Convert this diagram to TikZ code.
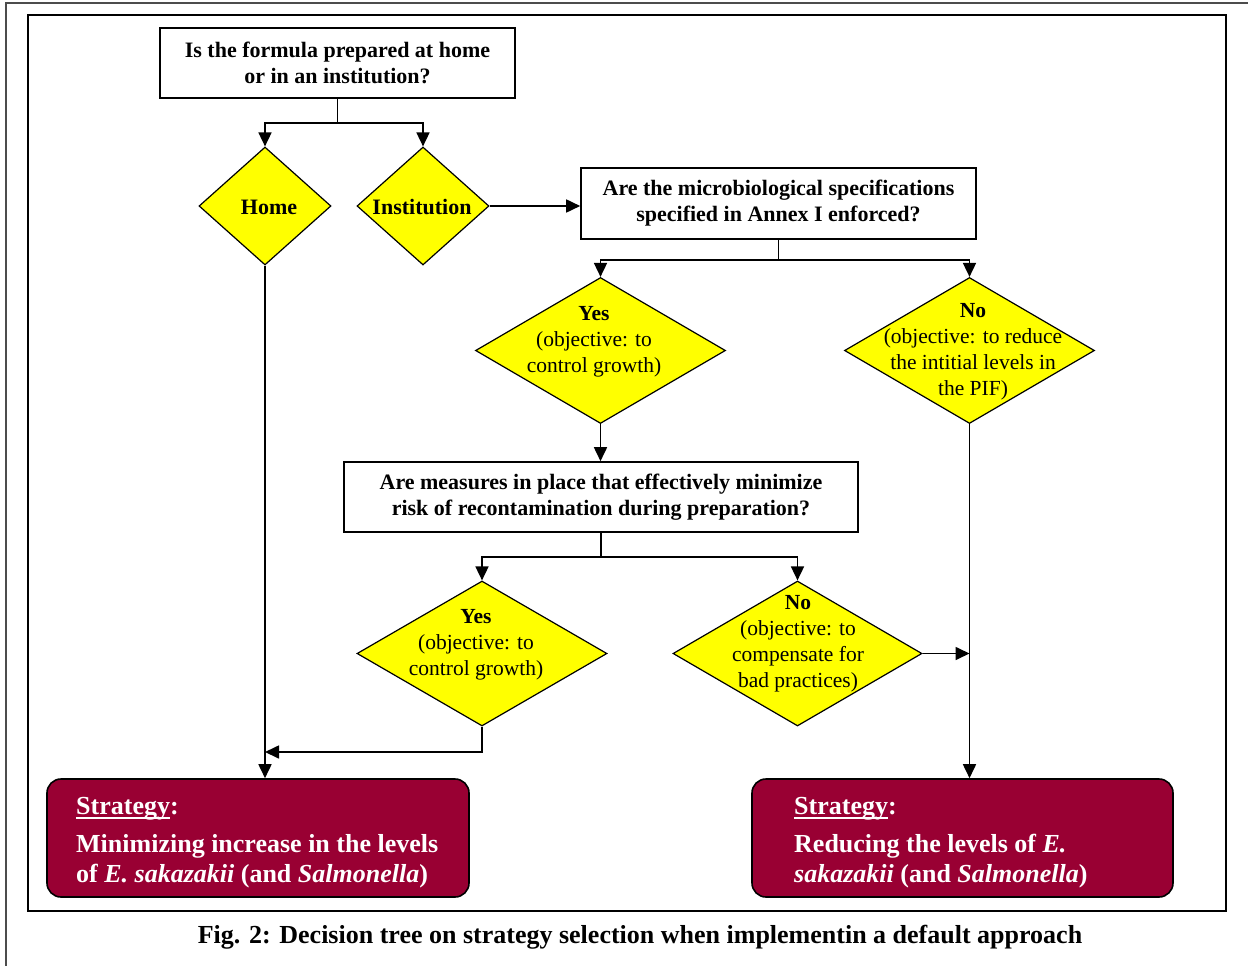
\documentclass[tikz,border=0pt]{standalone}
\usepackage{fontspec}
\setmainfont{Liberation Serif}
\usetikzlibrary{shapes.geometric,arrows.meta}
\definecolor{maroon}{HTML}{990033}
\definecolor{yel}{HTML}{FFFF00}
\newcommand{\myul}[1]{\setbox0\hbox{#1}\rlap{\rule[-4.5pt]{\wd0}{2pt}}\box0}
\begin{document}
\begin{tikzpicture}[x=1pt,y=-1pt,
 box/.style={draw,line width=1.6pt,fill=white,inner sep=0,align=center,font=\bfseries\fontsize{22}{26}\selectfont},
 dia/.style={diamond,draw,line width=1.2pt,fill=yel,inner sep=0},
 dtext/.style={align=center,font=\fontsize{21.5}{26}\selectfont,inner sep=0},
 conn/.style={line width=1.7pt},
 arr/.style={conn,-{Triangle[length=14pt,width=13pt]}},
 strat/.style={draw,line width=1.6pt,fill=maroon,rounded corners=14pt,inner sep=0},
 stext/.style={text=white,align=left,font=\bfseries\fontsize{26}{30}\selectfont,inner sep=0}]
\useasboundingbox (0,0) rectangle (1248,966);
\fill[white] (0,0) rectangle (1248,966);
\draw[line width=2pt,black!70] (6,966)--(6,3)--(1248,3);
\draw[line width=2.4pt] (28,15) rectangle (1226,911);

\node[box,minimum width=355,minimum height=70] (q1) at (337.5,63) {Is the formula prepared at home\\or in an institution?};
\node[dia,minimum width=132,minimum height=118] (home) at (265,206) {};
\node[dtext,font=\bfseries\fontsize{22}{26}\selectfont] (homet) at (269,207) {Home};
\node[dia,minimum width=132,minimum height=118] (inst) at (423,206) {};
\node[dtext,font=\bfseries\fontsize{22}{26}\selectfont] (instt) at (422,207) {Institution};
\node[box,minimum width=395,minimum height=71] (q2) at (778.5,203.5) {Are the microbiological specifications\\specified in Annex I enforced?};
\node[dia,minimum width=250,minimum height=146] (yes1) at (600.5,350.5) {};
\node[dtext] (yes1t) at (594,342) {\textbf{Yes}\\(objective: to\\control growth)};
\node[dia,minimum width=250,minimum height=146] (no1) at (969.5,350.5) {};
\node[dtext] (no1t) at (973,352) {\textbf{No}\\(objective: to reduce\\the intitial levels in\\the PIF)};
\node[box,minimum width=514,minimum height=70] (q3) at (601,497) {Are measures in place that effectively minimize\\risk of recontamination during preparation?};
\node[dia,minimum width=250,minimum height=145] (yes2) at (482,653.5) {};
\node[dtext] (yes2t) at (476,645) {\textbf{Yes}\\(objective: to\\control growth)};
\node[dia,minimum width=249,minimum height=145] (no2) at (797.5,653.5) {};
\node[dtext] (no2t) at (798,644) {\textbf{No}\\(objective: to\\compensate for\\bad practices)};
\node[strat,minimum width=422,minimum height=118] (s1) at (258,838) {};
\node[stext,anchor=west] (s1t) at (76,843) {\myul{Strategy}:\\[8pt]Minimizing increase in the levels\\of \textit{E. sakazakii} (and \textit{Salmonella})};
\node[strat,minimum width=421,minimum height=118] (s2) at (962.5,838) {};
\node[stext,anchor=west] (s2t) at (794,843) {\myul{Strategy}:\\[8pt]Reducing the levels of \textit{E.}\\\textit{sakazakii} (and \textit{Salmonella})};
\node[font=\bfseries\fontsize{26}{30}\selectfont] (cap) at (640,937) {Fig. 2: Decision tree on strategy selection when implementin a default approach};

\draw[conn] (q1.south) -- ++(0,24) coordinate (j1);
\draw[arr] (j1) -| (home.north);
\draw[arr] (j1) -| (inst.north);
\draw[arr] (inst.east) -- (inst.east -| q2.west);
\draw[conn] (q2.south) -- ++(0,20) coordinate (j2);
\draw[arr] (j2) -| (yes1.north);
\draw[arr] (j2) -| (no1.north);
\draw[arr] (yes1.south) -- (yes1.south |- q3.north);
\draw[conn] (q3.south) -- ++(0,24) coordinate (j3);
\draw[arr] (j3) -| (yes2.north);
\draw[arr] (j3) -| (no2.north);
\draw[arr] (home.south) -- (home.south |- s1.north);
\draw[arr] (no1.south) -- (no1.south |- s2.north);
\coordinate (m1) at (265,752);
\draw[arr] (yes2.south) |- (m1);
\draw[arr] (no2.east) -- (no2.east -| no1.south);
\end{tikzpicture}
\end{document}
